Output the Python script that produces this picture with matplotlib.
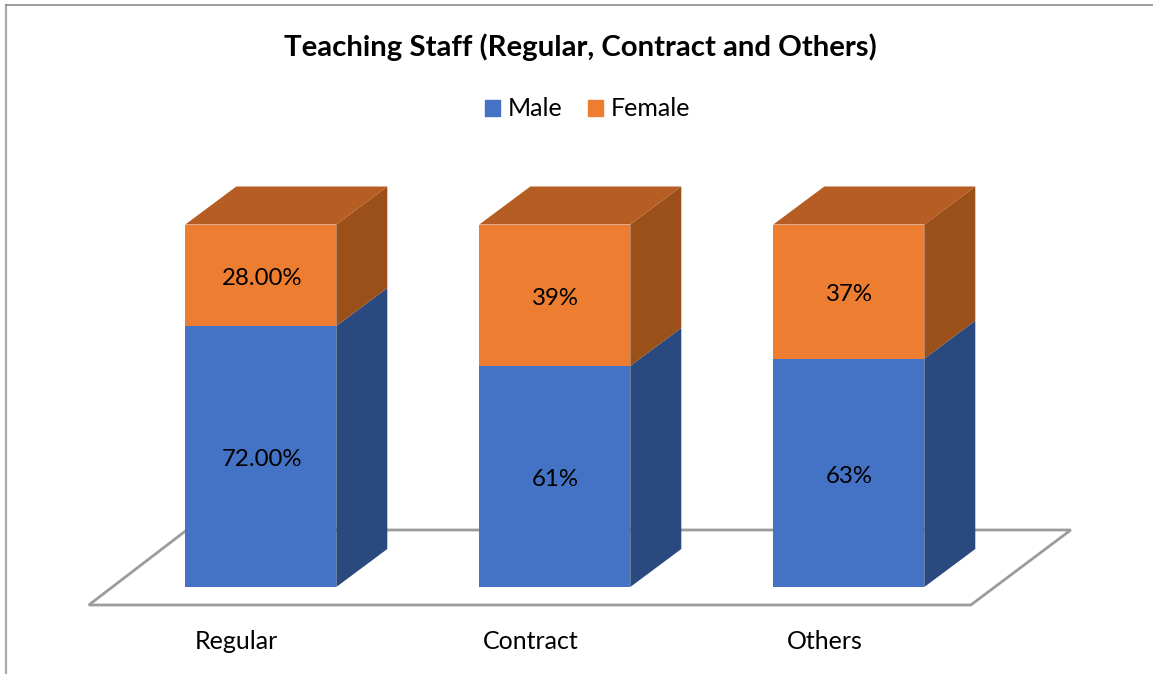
import matplotlib
matplotlib.use('Agg')
import matplotlib.pyplot as plt
from matplotlib.patches import Polygon, Patch
from matplotlib.lines import Line2D

plt.rcParams['font.family'] = ['Lato', 'DejaVu Sans']

# data
categories = ['Regular', 'Contract', 'Others']
male = [72, 61, 63]
female = [28, 39, 37]
male_labels = ['72.00%', '61%', '63%']
female_labels = ['28.00%', '39%', '37%']

W, H = 1153, 674
fig = plt.figure(figsize=(W / 100, H / 100), dpi=100)

# axes baseline sits on the bottom of the bars, 100% on their top
base_px = 587
px_per_pct = 3.625
px_per_cat = 294
first_px = 260.8
ax = fig.add_axes([0, (H - base_px) / H, 1, base_px / H])
ax.set_xlim(-first_px / px_per_cat, (W - first_px) / px_per_cat)
ax.set_ylim(0, base_px / px_per_pct)
ax.patch.set_visible(False)

# depth of the fake 3d, in data units
dx = 51 / px_per_cat
dy = 38 / px_per_pct
bar_w = 151 / px_per_cat

# floor
floor_y0 = -18 / px_per_pct
floor_y1 = 57 / px_per_pct
floor = [(-172 / px_per_cat, floor_y0), (710 / px_per_cat, floor_y0),
         (810 / px_per_cat, floor_y1), (-74 / px_per_cat, floor_y1)]
ax.add_patch(Polygon(floor, closed=True, fc='white', ec='#9C9C9C', lw=2, clip_on=False, zorder=1))


def box(x, y0, y1, front, side):
    r = x + bar_w / 2
    ax.bar(x, y1 - y0, bar_w, bottom=y0, color=front, zorder=3)
    ax.add_patch(Polygon([(r, y0), (r + dx, y0 + dy), (r + dx, y1 + dy), (r, y1)],
                         closed=True, fc=side, ec='none', zorder=2))


def bar_label(x, y, s):
    # labels sit a bit under the middle of each segment
    ax.annotate(s, (x, y), xytext=(0.6, -2.4), textcoords='offset points', ha='center', va='center',
                fontsize=17.3, color='black', zorder=5)


for i in range(len(categories)):
    box(i, 0, male[i], '#4472C4', '#2A4A7F')
    box(i, male[i], male[i] + female[i], '#ED7D31', '#9A5018')
    top = male[i] + female[i]
    l = i - bar_w / 2
    r = i + bar_w / 2
    ax.add_patch(Polygon([(l, top), (l + dx, top + dy), (r + dx, top + dy), (r, top)],
                         closed=True, fc='#B55D22', ec='none', zorder=2))
    bar_label(i, male[i] / 2, male_labels[i])
    bar_label(i, male[i] + female[i] / 2, female_labels[i])

# category names sit left of the bar centres, in the middle of the floor's front edge
ax.set_xticks([i - 24 / px_per_cat for i in range(len(categories))])
ax.set_xticklabels(categories, fontsize=18, color='black')
ax.tick_params(axis='x', length=0, pad=31.3)
ax.set_yticks([])
for s in ax.spines.values():
    s.set_visible(False)

fig.text(580.5 / W, 1 - 47 / H, 'Teaching Staff (Regular, Contract and Others)',
         ha='center', va='center', fontsize=21.2, fontweight='bold', color='black')

handles = [Patch(color='#4472C4', label='Male'), Patch(color='#ED7D31', label='Female')]
fig.legend(handles=handles, loc='center', bbox_to_anchor=(587.5 / W, 1 - 109 / H), ncol=2, frameon=False,
           fontsize=18, handlelength=0.6, handleheight=0.6, handletextpad=0.3, columnspacing=1.02,
           borderpad=0, borderaxespad=0)

# chart border, only top and left show in the crop
fig.add_artist(Line2D([5.5 / W, 5.5 / W], [0, 1 - 4.5 / H], color='#ABABAB', lw=1.6))
fig.add_artist(Line2D([5.5 / W, 1], [1 - 4.5 / H, 1 - 4.5 / H], color='#8C8C8C', lw=1.2))

fig.savefig('out.png', dpi=100, facecolor='white')
